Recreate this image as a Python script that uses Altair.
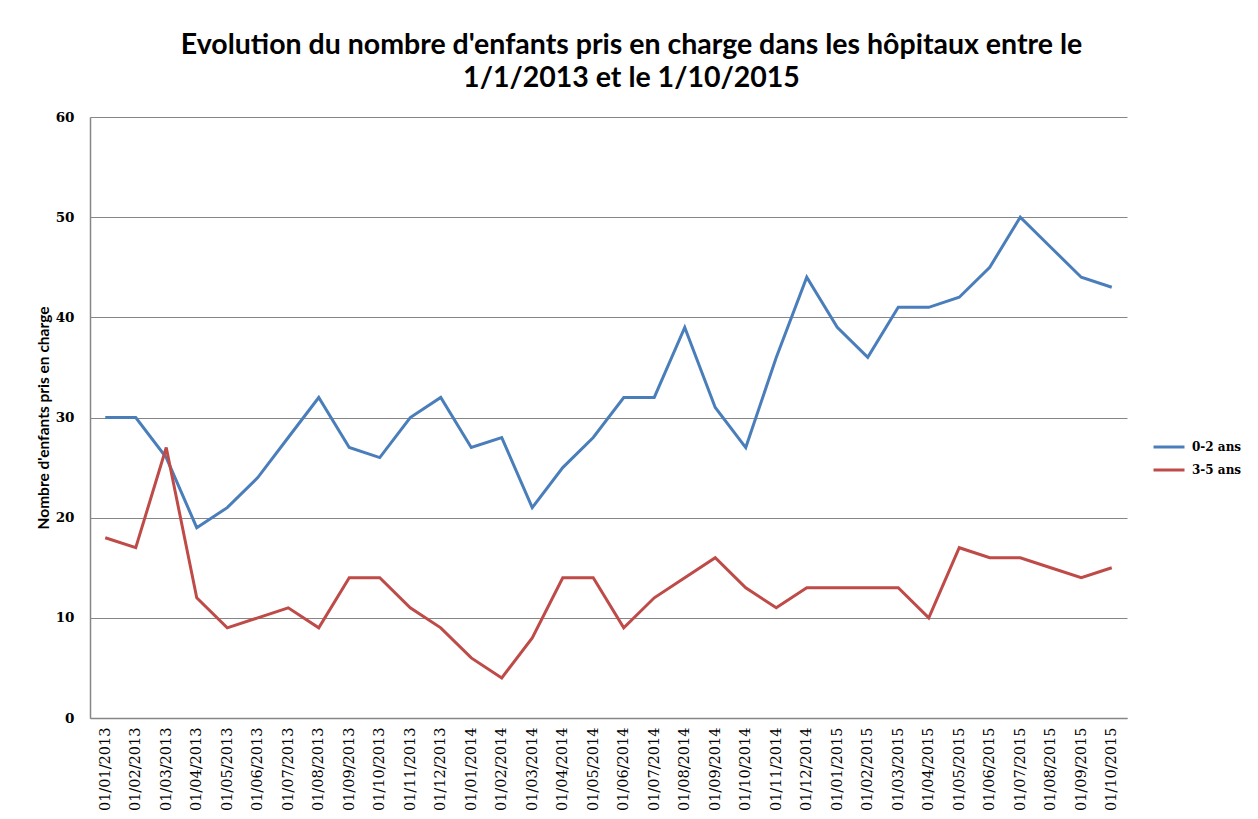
import altair as alt
import pandas as pd

dates = [
    "01/01/2013", "01/02/2013", "01/03/2013", "01/04/2013", "01/05/2013", "01/06/2013",
    "01/07/2013", "01/08/2013", "01/09/2013", "01/10/2013", "01/11/2013", "01/12/2013",
    "01/01/2014", "01/02/2014", "01/03/2014", "01/04/2014", "01/05/2014", "01/06/2014",
    "01/07/2014", "01/08/2014", "01/09/2014", "01/10/2014", "01/11/2014", "01/12/2014",
    "01/01/2015", "01/02/2015", "01/03/2015", "01/04/2015", "01/05/2015", "01/06/2015",
    "01/07/2015", "01/08/2015", "01/09/2015", "01/10/2015",
]
ages_0_2 = [30, 30, 26, 19, 21, 24, 28, 32, 27, 26, 30, 32,
            27, 28, 21, 25, 28, 32, 32, 39, 31, 27, 36, 44,
            39, 36, 41, 41, 42, 45, 50, 47, 44, 43]
ages_3_5 = [18, 17, 27, 12, 9, 10, 11, 9, 14, 14, 11, 9,
            6, 4, 8, 14, 14, 9, 12, 14, 16, 13, 11, 13,
            13, 13, 13, 10, 17, 16, 16, 15, 14, 15]
series_names = ["0-2 ans", "3-5 ans"]
series_colors = ["#4A7EBB", "#BE4B48"]
y_ticks = [0, 10, 20, 30, 40, 50, 60]

rows = []
for name, vals in zip(series_names, [ages_0_2, ages_3_5]):
    for d, v in zip(dates, vals):
        rows.append({"date": d, "value": v, "serie": name})
df = pd.DataFrame(rows)

grey = "#868686"

chart = alt.Chart(df).mark_line(strokeWidth=3, strokeJoin="miter").encode(
    x=alt.X("date:N", sort=dates, title=None,
            scale=alt.Scale(type="point", padding=0.5),
            axis=alt.Axis(labelAngle=-90, labelAlign="right", labelBaseline="middle",
                          labelPadding=9, ticks=False, grid=False, domainColor=grey, domainWidth=1.5,
                          labelFont="DejaVu Serif", labelFontSize=14.5, labelColor="#000000",
                          labelOverlap=False)),
    y=alt.Y("value:Q", title="Nombre d'enfants pris en charge",
            scale=alt.Scale(domain=[0, 60], nice=False),
            axis=alt.Axis(values=y_ticks, ticks=False, domainColor=grey, domainWidth=1.5,
                          gridColor=grey, gridWidth=1, labelPadding=16,
                          labelFont="DejaVu Serif", labelFontWeight="bold", labelFontSize=13.5,
                          labelColor="#000000",
                          titleFont="Lato", titleFontSize=15.5, titleFontWeight="bold",
                          titleColor="#000000", titlePadding=4)),
    color=alt.Color("serie:N", scale=alt.Scale(domain=series_names, range=series_colors),
                    legend=alt.Legend(title=None, orient="none", legendX=1062, legendY=313,
                                      symbolType="stroke", symbolSize=961, symbolStrokeWidth=3,
                                      labelFont="DejaVu Serif", labelFontSize=12,
                                      labelFontWeight="bold", labelColor="#000000",
                                      labelOffset=6, rowPadding=-1)),
).properties(
    width=1037,
    height=601,
    title=alt.Title(
        ["Evolution du nombre d'enfants pris en charge dans les hôpitaux entre le",
         "1/1/2013 et le 1/10/2015"],
        font="Lato", fontSize=28.5, fontWeight="bold", color="#000000",
        anchor="middle", dx=23, offset=18, lineHeight=33,
    ),
    autosize=alt.AutoSizeParams(type="none"),
    padding={"left": 82, "top": 109, "right": 115, "bottom": 92},
).configure(background="#ffffff").configure_view(stroke=None)

chart.save("out.html", embed_options={"renderer": "svg", "actions": False})
